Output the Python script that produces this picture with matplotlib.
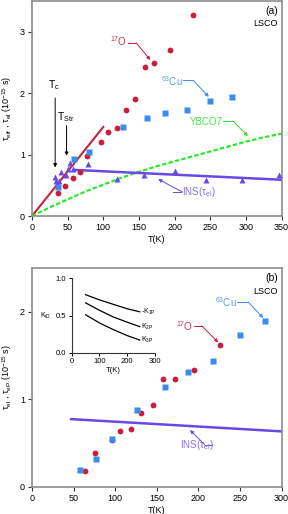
import numpy as np
import matplotlib
matplotlib.use("Agg")
import matplotlib.pyplot as plt

plt.rcParams['font.family'] = ['Liberation Sans', 'DejaVu Sans']
plt.rcParams['mathtext.default'] = 'regular'
plt.rcParams['font.size'] = 6.5

# colours
RED = '#c8203c'
BLUE = '#3b8ced'
PURPLE = '#6a48e6'
GREEN = '#2ee82e'
SPINE = '#8c8c8c'

# ---------- panel (a) data ----------
o17_T_a = [36, 46, 57, 67, 77, 97, 107, 119, 132, 145, 158, 171, 194, 226]
o17_tau_a = [0.375, 0.49, 0.62, 0.72, 0.975, 1.20, 1.36, 1.44, 1.73, 1.91, 2.43, 2.49, 2.70, 3.28]

cu63_T_a = [36, 59, 80, 127, 161, 187, 218, 250, 280]
cu63_tau_a = [0.48, 0.93, 1.05, 1.45, 1.60, 1.68, 1.72, 1.87, 1.93]

ins_T_a = [32, 34, 38, 41, 47, 50, 54, 58, 79, 119, 157, 200, 244, 294, 347]
ins_tau_a = [0.63, 0.57, 0.57, 0.71, 0.66, 0.77, 0.87, 0.76, 0.84, 0.61, 0.67, 0.74, 0.585, 0.585, 0.67]

ins_line_T_a = [60, 350]
ins_line_tau_a = [0.75, 0.59]

lin_T = [0, 100]
lin_tau = [0, 1.45]

ybco_T = [0, 25, 50, 75, 100, 125, 150, 175, 200, 225, 250, 275, 300, 325, 350]
ybco_tau = [0, 0.14, 0.27, 0.40, 0.51, 0.62, 0.72, 0.81, 0.89, 0.97, 1.05, 1.13, 1.21, 1.28, 1.34]

# ---------- panel (b) data ----------
o17_T_b = [64, 76, 96, 106, 119, 131, 145, 158, 172, 195, 226]
o17_tau_b = [0.18, 0.39, 0.535, 0.635, 0.66, 0.84, 0.935, 1.23, 1.23, 1.33, 1.62]

cu63_T_b = [58, 77, 96, 126, 160, 187, 218, 250, 280]
cu63_tau_b = [0.19, 0.32, 0.55, 0.875, 1.14, 1.31, 1.44, 1.73, 1.90]

ins_line_T_b = [47, 300]
ins_line_tau_b = [0.775, 0.635]

# inset K_iD curves
k_T = [50, 100, 150, 200, 245]
k1p = [0.78, 0.71, 0.65, 0.59, 0.55]
k2p = [0.67, 0.57, 0.48, 0.41, 0.35]
k3p = [0.51, 0.40, 0.31, 0.23, 0.17]


def style_axes(ax):
    for s in ax.spines.values():
        s.set_color(SPINE)
        s.set_linewidth(1.2)
    ax.tick_params(direction='out', length=3, width=0.8, color='#333333', pad=2)


def knee_arrow(ax, text, xy_text, knee, target, color, tcolor=None, fs=7):
    # label, short horizontal line and arrow to the point
    ax.text(xy_text[0], xy_text[1], text, color=tcolor or color, fontsize=fs,
            ha='right', va='center')
    ax.plot([xy_text[0] + 1, knee[0]], [knee[1], knee[1]], color=color, lw=0.7)
    ax.annotate('', xy=target, xytext=knee,
                arrowprops=dict(arrowstyle='-|>', color=color, lw=0.7,
                                mutation_scale=5, shrinkA=0, shrinkB=0))


fig = plt.figure(figsize=(2.88, 5.14), dpi=100)

# ---------------- (a) ----------------
ax = fig.add_axes([32 / 288, 1 - 216 / 514, 249.5 / 288, 215 / 514])
style_axes(ax)

ax.plot(lin_T, lin_tau, color=RED, lw=1.5, zorder=2)
ax.plot(ybco_T, ybco_tau, color=GREEN, lw=1.6, ls=(0, (2, 1)), zorder=2)
ax.plot(ins_line_T_a, ins_line_tau_a, color=PURPLE, lw=1.8, zorder=2)
ax.plot(o17_T_a, o17_tau_a, 'o', color=RED, ms=4.2, mec='none', zorder=3)
ax.plot(cu63_T_a, cu63_tau_a, 's', color=BLUE, ms=3.8, mec='none', zorder=3)
ax.plot(ins_T_a, ins_tau_a, '^', color=PURPLE, ms=4.0, mec='none', zorder=3)

# Tc / TStr arrows
ax.text(31, 2.02, 'T$_c$', fontsize=7.5, ha='center', va='bottom')
ax.annotate('', xy=(32.5, 0.79), xytext=(32.5, 1.92),
            arrowprops=dict(arrowstyle='-|>', color='black', lw=0.7,
                            mutation_scale=5, shrinkA=0, shrinkB=0))
ax.text(47, 1.50, 'T$_{Str}$', fontsize=7.5, ha='center', va='bottom')
ax.annotate('', xy=(48.5, 0.98), xytext=(48.5, 1.47),
            arrowprops=dict(arrowstyle='-|>', color='black', lw=0.7,
                            mutation_scale=5, shrinkA=0, shrinkB=0))

knee_arrow(ax, '$^{17}$O', (134, 2.84), (146, 2.82), (166, 2.54), RED, '#d0304e')
knee_arrow(ax, '$^{63}$Cu', (211, 2.19), (226, 2.21), (248, 1.94), BLUE, '#5a9ef0')
knee_arrow(ax, 'YBCO7', (267, 1.53), (282, 1.545), (303, 1.30), '#33d833', '#44e844')
knee_arrow(ax, 'INS($\\tau_{el}$)', (258, 0.39), (198, 0.39), (177, 0.60), PURPLE, '#8a6ee8')
# INS label sits right of its knee
ax.texts[-1].set_ha('left')
ax.texts[-1].set_x(211)
ax.lines[-1].set_xdata([209, 198])

ax.text(0.985, 0.975, '(a)', transform=ax.transAxes, ha='right', va='top', fontsize=7.5)
ax.text(0.985, 0.915, 'LSCO', transform=ax.transAxes, ha='right', va='top', fontsize=6.5)

ax.set_xlim(0, 350)
ax.set_ylim(0, 3.5)
ax.set_xticks(np.arange(0, 351, 50))
ax.set_yticks([0, 1, 2, 3])
ax.set_xlabel('T(K)', labelpad=2)
ax.set_ylabel('$\\tau_{eff}$ , $\\tau_{el}$ (10$^{-15}$ s)', labelpad=4)

# ---------------- (b) ----------------
bx = fig.add_axes([32 / 288, 1 - 487 / 514, 249.5 / 288, 219 / 514])
style_axes(bx)

bx.plot(ins_line_T_b, ins_line_tau_b, color=PURPLE, lw=1.8, zorder=2)
bx.plot(o17_T_b, o17_tau_b, 'o', color=RED, ms=4.2, mec='none', zorder=3)
bx.plot(cu63_T_b, cu63_tau_b, 's', color=BLUE, ms=3.8, mec='none', zorder=3)

knee_arrow(bx, '$^{17}$O', (194, 1.84), (204, 1.84), (224, 1.65), RED, '#d0304e')
knee_arrow(bx, '$^{63}$Cu', (246, 2.11), (260, 2.11), (278, 1.93), BLUE, '#5a9ef0')
knee_arrow(bx, 'INS($\\tau_{el}$)', (218, 0.48), (208, 0.48), (190, 0.65), PURPLE, '#8a6ee8')
bx.texts[-1].set_ha('left')
bx.lines[-1].set_xdata([216, 208])

bx.text(0.985, 0.975, '(b)', transform=bx.transAxes, ha='right', va='top', fontsize=7.5)
bx.text(0.985, 0.915, 'LSCO', transform=bx.transAxes, ha='right', va='top', fontsize=6.5)

bx.set_xlim(0, 300)
bx.set_ylim(0, 2.5)
bx.set_xticks(np.arange(0, 301, 50))
bx.set_yticks([0, 1, 2])
bx.set_xlabel('T(K)', labelpad=2)
bx.set_ylabel('$\\tau_{el}$ , $\\tau_{eP}$ (10$^{-15}$ s)', labelpad=4)

# ---------------- inset ----------------
ix = fig.add_axes([71.7 / 288, 1 - 352.7 / 514, 83.3 / 288, 74.4 / 514])
for side in ['top', 'right']:
    ix.spines[side].set_visible(False)
for side in ['left', 'bottom']:
    ix.spines[side].set_color('#333333')
    ix.spines[side].set_linewidth(0.8)
ix.tick_params(direction='out', length=2.5, width=0.7, labelsize=5.5, pad=1.5)
ix.plot(k_T, k1p, color='black', lw=0.9)
ix.plot(k_T, k2p, color='black', lw=0.9)
ix.plot(k_T, k3p, color='black', lw=0.9)
ix.text(248, k1p[-1], '-K$_{1P}$', fontsize=5, va='center', ha='left')
ix.text(250, k2p[-1], 'K$_{2P}$', fontsize=5, va='center', ha='left')
ix.text(250, k3p[-1], 'K$_{3P}$', fontsize=5, va='center', ha='left')
ix.set_xlim(0, 300)
ix.set_ylim(0, 1.0)
ix.set_xticks([0, 100, 200, 300])
ix.set_yticks([0.0, 0.5, 1.0])
ix.set_yticklabels(['0.0', '0.5', '1.0'])
ix.set_xlabel('T(K)', fontsize=5.5, labelpad=1)
ix.set_ylabel('K$_{iD}$', fontsize=5, rotation=0, labelpad=7, va='center')

fig.savefig('out.png', dpi=100)
